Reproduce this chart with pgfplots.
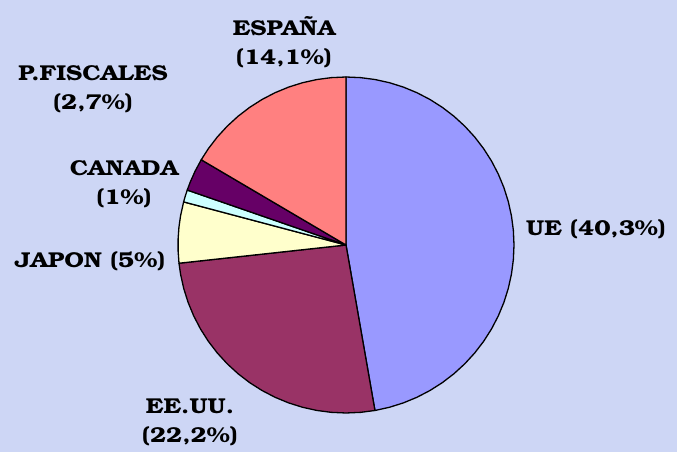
\documentclass[border=0pt]{standalone}
\usepackage[T1]{fontenc}
\usepackage{graphicx}
\usepackage{pgfplots}
\pgfplotsset{compat=1.18}
\definecolor{bg}{HTML}{CDD6F5}
\definecolor{cUE}{HTML}{9999FF}
\definecolor{cUS}{HTML}{993366}
\definecolor{cJP}{HTML}{FFFFCC}
\definecolor{cCA}{HTML}{CCFFFF}
\definecolor{cPF}{HTML}{660066}
\definecolor{cES}{HTML}{FF8080}
\newcommand\lbl{\fontencoding{T1}\fontfamily{pbk}\fontseries{db}\fontshape{n}\fontsize{21.5}{29.5}\selectfont}
\newcommand\w[1]{\scalebox{1.14}[1]{#1}}
\begin{document}
\begin{tikzpicture}
\begin{axis}[x=1pt,y=1pt,xmin=-346,xmax=331,ymin=-207,ymax=245,
  hide axis, scale only axis, clip=false,
  every axis plot/.append style={draw=black,line width=1.3pt,line join=round,data cs=polar}]
\fill[bg] (axis cs:-346,-207) rectangle (axis cs:331,245);
% values: UE 40,3 ; EE.UU. 22,2 ; JAPON 5 ; CANADA 1 ; P.FISCALES 2,7 ; ESPANA 14,1 (share of 85,3)
% UE: 90 -> -80.08
\addplot[fill=cUE] coordinates {(0,0) (90,168) (85,168) (80,168) (75,168) (70,168) (65,168) (60,168) (55,168) (50,168) (45,168) (40,168) (35,168) (30,168) (25,168) (20,168) (15,168) (10,168) (5,168) (0,168) (-5,168) (-10,168) (-15,168) (-20,168) (-25,168) (-30,168) (-35,168) (-40,168) (-45,168) (-50,168) (-55,168) (-60,168) (-65,168) (-70,168) (-75,168) (-80.08,168)} -- cycle;
% EE.UU.: -80.08 -> -173.77
\addplot[fill=cUS] coordinates {(0,0) (-80.08,168) (-85,168) (-90,168) (-95,168) (-100,168) (-105,168) (-110,168) (-115,168) (-120,168) (-125,168) (-130,168) (-135,168) (-140,168) (-145,168) (-150,168) (-155,168) (-160,168) (-165,168) (-170,168) (-173.77,168)} -- cycle;
% JAPON: -173.77 -> -194.87
\addplot[fill=cJP] coordinates {(0,0) (-173.77,168) (-178,168) (-182,168) (-186,168) (-190,168) (-194.87,168)} -- cycle;
% CANADA: -194.87 -> -199.09
\addplot[fill=cCA] coordinates {(0,0) (-194.87,168) (-197,168) (-199.09,168)} -- cycle;
% P.FISCALES: -199.09 -> -210.49
\addplot[fill=cPF] coordinates {(0,0) (-199.09,168) (-202,168) (-206,168) (-210.49,168)} -- cycle;
% ESPANA: -210.49 -> -270
\addplot[fill=cES] coordinates {(0,0) (-210.49,168) (-215,168) (-220,168) (-225,168) (-230,168) (-235,168) (-240,168) (-245,168) (-250,168) (-255,168) (-260,168) (-265,168) (-270,168)} -- cycle;
\begin{scope}[every node/.style={inner sep=0pt,align=center,anchor=base,font=\lbl}]
\node at (axis cs:250,9) {\w{UE (40,3\%)}};
\node at (axis cs:-62,180) {\w{ESPA\~NA}\\\w{(14,1\%)}};
\node at (axis cs:-253,135) {\w{P.FISCALES}\\\w{(2,7\%)}};
\node at (axis cs:-222,40) {\w{CANADA}\\\w{(1\%)}};
\node at (axis cs:-256,-23) {\w{JAPON (5\%)}};
\node at (axis cs:-156,-198) {\w{EE.UU.}\\\w{(22,2\%)}};
\end{scope}
\end{axis}
\end{tikzpicture}
\end{document}
